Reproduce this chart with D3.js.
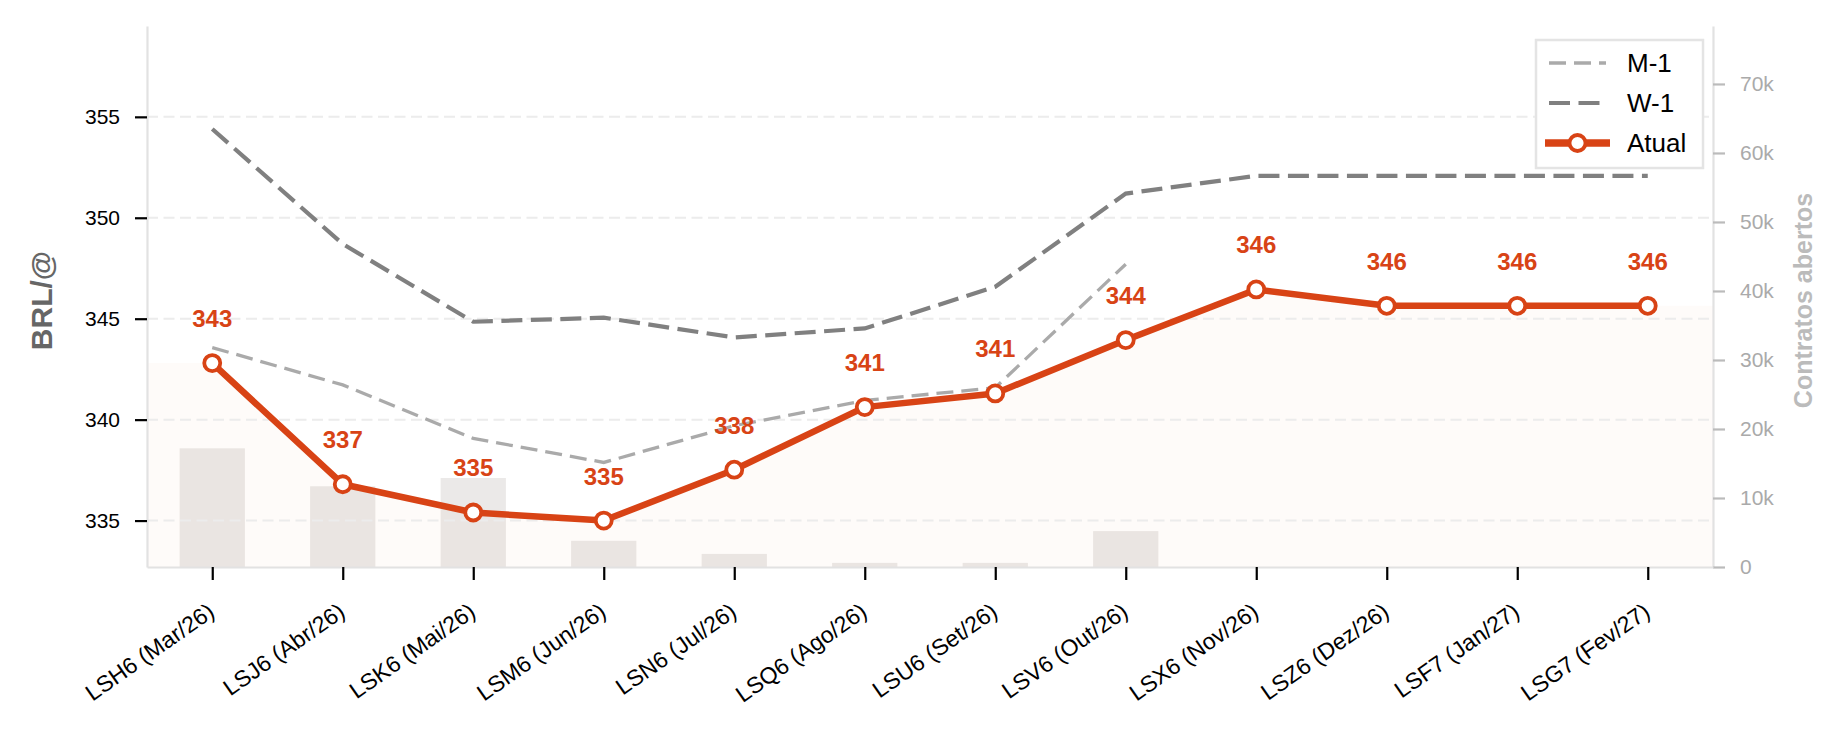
<!DOCTYPE html>
<html>
<head>
<meta charset="utf-8">
<script src="https://cdn.jsdelivr.net/npm/d3@7"></script>
<style>
body { margin: 0; background: #fff; }
text { font-family: "Liberation Sans", Arial, sans-serif; }
</style>
</head>
<body>
<svg id="chart" width="1846" height="734"></svg>
<script>
var contracts = ['LSH6 (Mar/26)', 'LSJ6 (Abr/26)', 'LSK6 (Mai/26)', 'LSM6 (Jun/26)', 'LSN6 (Jul/26)', 'LSQ6 (Ago/26)',
    'LSU6 (Set/26)', 'LSV6 (Out/26)', 'LSX6 (Nov/26)', 'LSZ6 (Dez/26)', 'LSF7 (Jan/27)', 'LSG7 (Fev/27)'];
var atual = [342.8, 336.8, 335.4, 335.0, 337.52, 340.62, 341.3, 343.94, 346.45, 345.64, 345.64, 345.64];
var w1 = [354.4, 348.7, 344.85, 345.05, 344.07, 344.52, 346.58, 351.2, 352.08, 352.08, 352.08, 352.08];
var m1 = [343.57, 341.72, 339.07, 337.88, 339.7, 340.95, 341.58, 347.7, null, null, null, null];
var openInterest = [17200, 11700, 12900, 3800, 1900, 600, 600, 5200, 0, 0, 0, 0];
var priceTicks = [335, 340, 345, 350, 355];
var oiTicks = [0, 10000, 20000, 30000, 40000, 50000, 60000, 70000];
var legendItems = ['M-1', 'W-1', 'Atual'];

var orange = '#d84315';
var plotLeft = 147, plotRight = 1713, plotTop = 26, plotBottom = 567;

var svg = d3.select('#chart');

var x = d3.scalePoint().domain(contracts).range([plotLeft, plotRight]).padding(0.5);
var y = d3.scaleLinear().domain([332.7, 359.5]).range([plotBottom, plotTop]);
var y2 = d3.scaleLinear().domain([0, 78400]).range([plotBottom, plotTop]);
var step = x.step();

// open interest bars (right axis)
svg.append('g')
    .selectAll('rect')
    .data(contracts)
    .join('rect')
    .attr('x', function(d) { return x(d) - step * 0.25; })
    .attr('width', step * 0.5)
    .attr('y', function(d, i) { return y2(openInterest[i]); })
    .attr('height', function(d, i) { return plotBottom - y2(openInterest[i]); })
    .attr('fill', '#ebe9e8');

// light fill under the current curve, carried to both spines
var areaPts = [[plotLeft, atual[0]]]
    .concat(contracts.map(function(d, i) { return [x(d), atual[i]]; }))
    .concat([[plotRight, atual[atual.length - 1]]]);
svg.append('path')
    .attr('d', d3.area()
        .x(function(d) { return d[0]; })
        .y0(plotBottom)
        .y1(function(d) { return y(d[1]); })(areaPts))
    .attr('fill', orange)
    .attr('fill-opacity', 0.025);

svg.append('g')
    .selectAll('line')
    .data(priceTicks)
    .join('line')
    .attr('x1', plotLeft)
    .attr('x2', plotRight)
    .attr('y1', function(d) { return y(d); })
    .attr('y2', function(d) { return y(d); })
    .attr('stroke', '#ececec')
    .attr('stroke-width', 2)
    .attr('stroke-dasharray', '11,5.5');

function seriesLine(values) {
    return d3.line()
        .defined(function(d, i) { return values[i] != null; })
        .x(function(d) { return x(d); })
        .y(function(d, i) { return y(values[i]); })(contracts);
}

svg.append('path')
    .attr('d', seriesLine(w1))
    .attr('fill', 'none')
    .attr('stroke', '#808080')
    .attr('stroke-width', 4.2)
    .attr('stroke-dasharray', '21,8.5');

svg.append('path')
    .attr('d', seriesLine(m1))
    .attr('fill', 'none')
    .attr('stroke', '#aaaaaa')
    .attr('stroke-width', 3.3)
    .attr('stroke-dasharray', '17,8');

svg.append('path')
    .attr('d', seriesLine(atual))
    .attr('fill', 'none')
    .attr('stroke', orange)
    .attr('stroke-width', 6.5)
    .attr('stroke-linejoin', 'round');

svg.append('g')
    .selectAll('circle')
    .data(contracts)
    .join('circle')
    .attr('cx', function(d) { return x(d); })
    .attr('cy', function(d, i) { return y(atual[i]); })
    .attr('r', 8)
    .attr('fill', '#fff')
    .attr('stroke', orange)
    .attr('stroke-width', 3.8);

svg.append('g')
    .selectAll('text')
    .data(contracts)
    .join('text')
    .attr('x', function(d) { return x(d); })
    .attr('y', function(d, i) { return y(atual[i]) - 36; })
    .attr('text-anchor', 'middle')
    .attr('font-size', 24)
    .attr('font-weight', 'bold')
    .attr('fill', orange)
    .text(function(d, i) { return Math.round(atual[i]); });

// axes
var gy = svg.append('g')
    .attr('transform', 'translate(' + plotLeft + ',0)')
    .call(d3.axisLeft(y).tickValues(priceTicks).tickSize(12).tickSizeOuter(0).tickPadding(15));
gy.selectAll('.tick line').attr('stroke', '#000').attr('stroke-width', 2.2);
gy.selectAll('.tick text').attr('font-size', 21).attr('fill', '#000').style('font-family', '"Liberation Sans", Arial, sans-serif');

var gy2 = svg.append('g')
    .attr('transform', 'translate(' + plotRight + ',0)')
    .call(d3.axisRight(y2).tickValues(oiTicks).tickSize(12).tickSizeOuter(0).tickPadding(15)
        .tickFormat(function(d) { return d === 0 ? '0' : d / 1000 + 'k'; }));
gy2.selectAll('.tick line').attr('stroke', '#bbbbbb').attr('stroke-width', 2.2);
gy2.selectAll('.tick text').attr('font-size', 21).attr('fill', '#aaaaaa').style('font-family', '"Liberation Sans", Arial, sans-serif');

var gx = svg.append('g')
    .attr('transform', 'translate(0,' + plotBottom + ')')
    .call(d3.axisBottom(x).tickSize(13).tickSizeOuter(0));
gx.selectAll('.tick line').attr('stroke', '#000').attr('stroke-width', 2.2);
gx.selectAll('.tick text')
    .attr('x', 0)
    .attr('y', 0)
    .attr('dy', '0.7em')
    .attr('text-anchor', 'end')
    .attr('transform', 'translate(-6,35) rotate(-35)')
    .attr('font-size', 23)
    .attr('fill', '#000')
    .style('font-family', '"Liberation Sans", Arial, sans-serif');

[gy, gy2, gx].forEach(function(g) {
    g.select('.domain').attr('stroke', '#e2e2e2').attr('stroke-width', 2.2);
});

svg.append('text')
    .attr('transform', 'translate(52,' + ((plotTop + plotBottom) / 2 + 4) + ') rotate(-90)')
    .attr('text-anchor', 'middle')
    .attr('font-size', 30)
    .attr('font-weight', 'bold')
    .attr('fill', '#666')
    .text('BRL/@');

svg.append('text')
    .attr('transform', 'translate(1812,' + ((plotTop + plotBottom) / 2 + 4) + ') rotate(-90)')
    .attr('text-anchor', 'middle')
    .attr('font-size', 25)
    .attr('font-weight', 'bold')
    .attr('fill', '#bbbbbb')
    .text('Contratos abertos');

// legend
var legend = svg.append('g').attr('transform', 'translate(1536,40)');
legend.append('rect')
    .attr('width', 167)
    .attr('height', 128)
    .attr('fill', '#fff')
    .attr('stroke', '#e4e4e4')
    .attr('stroke-width', 2.5);

var rows = legend.selectAll('g.row')
    .data(legendItems)
    .join('g')
    .classed('row', true)
    .attr('transform', function(d, i) { return 'translate(0,' + (23 + i * 40) + ')'; });

rows.filter(function(d) { return d === 'M-1'; })
    .append('line')
    .attr('x1', 13).attr('x2', 70)
    .attr('stroke', '#aaaaaa').attr('stroke-width', 3.3).attr('stroke-dasharray', '17,8');
rows.filter(function(d) { return d === 'W-1'; })
    .append('line')
    .attr('x1', 13).attr('x2', 64)
    .attr('stroke', '#808080').attr('stroke-width', 4.2).attr('stroke-dasharray', '21,8.5');
var atualRow = rows.filter(function(d) { return d === 'Atual'; });
atualRow.append('line')
    .attr('x1', 9).attr('x2', 74)
    .attr('stroke', orange).attr('stroke-width', 7.5);
atualRow.append('circle')
    .attr('cx', 41.5).attr('r', 8)
    .attr('fill', '#fff').attr('stroke', orange).attr('stroke-width', 3.8);

rows.append('text')
    .attr('x', 91)
    .attr('dy', '0.35em')
    .attr('font-size', 26)
    .attr('fill', '#000')
    .text(function(d) { return d; });
</script>
</body>
</html>
